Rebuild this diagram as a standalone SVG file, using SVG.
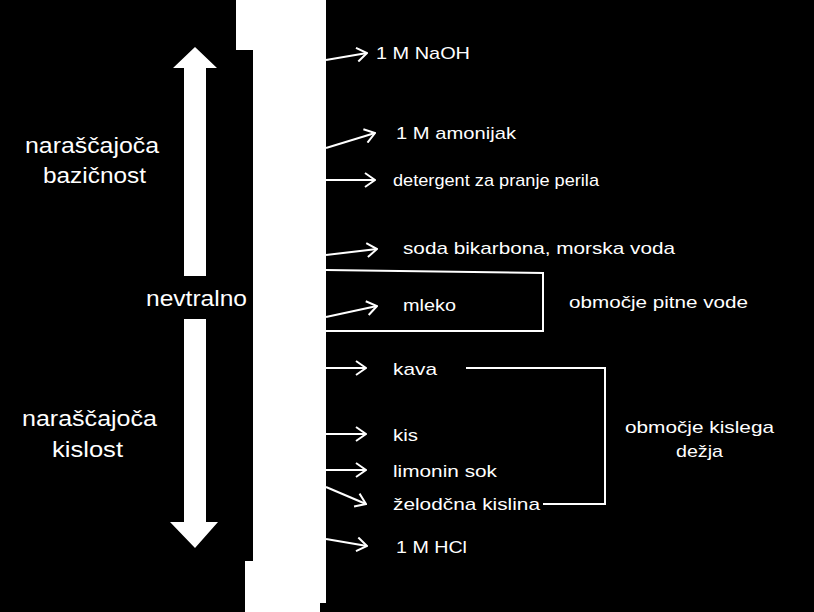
<svg xmlns="http://www.w3.org/2000/svg" width="814" height="612" viewBox="0 0 814 612">
<defs>
<style>
text{font-family:"Liberation Sans",Arial,sans-serif;fill:#fff}
.big{font-size:22px}
.lbl{font-size:17px}
.c{stroke:#fff;stroke-width:2;fill:none}
</style>
<marker id="ah" viewBox="0 0 12 16" refX="11" refY="8" markerWidth="12" markerHeight="16" markerUnits="userSpaceOnUse" orient="auto">
<path d="M1,1 L11,8 L1,15" fill="none" stroke="#fff" stroke-width="2"/>
</marker>
</defs>
<rect width="814" height="612" fill="#000"/>
<g id="scale-bar">
<path d="M236,0 H326 V603 H320 V612 H245 V561 H253 V50 H236 Z" fill="#fff"/>
</g>
<g id="double-arrow">
<polygon points="195,47 217,68 206,68 206,276 184,276 184,68 173,68" fill="#fff"/>
<polygon points="184,319 206,319 206,522 218,522 195,548 170,522 184,522" fill="#fff"/>
</g>
<g id="label-bazicnost">
<text class="big" x="25" y="153" textLength="134" lengthAdjust="spacingAndGlyphs">naraščajoča</text>
<text class="big" x="43" y="183" textLength="103" lengthAdjust="spacingAndGlyphs">bazičnost</text>
</g>
<g id="label-nevtralno">
<text class="big" x="146" y="306" textLength="101" lengthAdjust="spacingAndGlyphs">nevtralno</text>
</g>
<g id="label-kislost">
<text class="big" x="22" y="426" textLength="135" lengthAdjust="spacingAndGlyphs">naraščajoča</text>
<text class="big" x="52" y="457" textLength="71" lengthAdjust="spacingAndGlyphs">kislost</text>
</g>
<g id="connectors">
<line class="c" x1="326" y1="60" x2="367" y2="53" marker-end="url(#ah)"/>
<line class="c" x1="326" y1="148" x2="375" y2="133" marker-end="url(#ah)"/>
<line class="c" x1="326" y1="180" x2="375" y2="180" marker-end="url(#ah)"/>
<line class="c" x1="326" y1="255" x2="377" y2="249" marker-end="url(#ah)"/>
<line class="c" x1="326" y1="317" x2="377" y2="306" marker-end="url(#ah)"/>
<line class="c" x1="326" y1="368" x2="366" y2="368" marker-end="url(#ah)"/>
<line class="c" x1="326" y1="434" x2="366" y2="434" marker-end="url(#ah)"/>
<line class="c" x1="326" y1="470" x2="366" y2="470" marker-end="url(#ah)"/>
<line class="c" x1="326" y1="487" x2="366" y2="504" marker-end="url(#ah)"/>
<line class="c" x1="326" y1="539" x2="367" y2="546" marker-end="url(#ah)"/>
<path class="c" d="M326,270 L543,273 V331 H326"/>
<path class="c" d="M466,368 H605 V504 H543"/>
</g>
<g id="n-naoh"><text class="lbl" x="376" y="59" textLength="94" lengthAdjust="spacingAndGlyphs">1 M NaOH</text></g>
<g id="n-amonijak"><text class="lbl" x="396" y="139" textLength="120" lengthAdjust="spacingAndGlyphs">1 M amonijak</text></g>
<g id="n-detergent"><text class="lbl" x="393" y="186" textLength="206" lengthAdjust="spacingAndGlyphs">detergent za pranje perila</text></g>
<g id="n-soda"><text class="lbl" x="403" y="254" textLength="272" lengthAdjust="spacingAndGlyphs">soda bikarbona, morska voda</text></g>
<g id="n-mleko"><text class="lbl" x="403" y="311" textLength="53" lengthAdjust="spacingAndGlyphs">mleko</text></g>
<g id="n-pitna"><text class="lbl" x="569" y="308" textLength="179" lengthAdjust="spacingAndGlyphs">območje pitne vode</text></g>
<g id="n-kava"><text class="lbl" x="393" y="375" textLength="44" lengthAdjust="spacingAndGlyphs">kava</text></g>
<g id="n-kis"><text class="lbl" x="393" y="441" textLength="25" lengthAdjust="spacingAndGlyphs">kis</text></g>
<g id="n-limonin"><text class="lbl" x="393" y="477" textLength="104" lengthAdjust="spacingAndGlyphs">limonin sok</text></g>
<g id="n-zelodcna"><text class="lbl" x="393" y="510" textLength="147" lengthAdjust="spacingAndGlyphs">želodčna kislina</text></g>
<g id="n-hcl"><text class="lbl" x="396" y="553" textLength="71" lengthAdjust="spacingAndGlyphs">1 M HCl</text></g>
<g id="n-kisli-dez">
<text class="lbl" x="625" y="433" textLength="149" lengthAdjust="spacingAndGlyphs">območje kislega</text>
<text class="lbl" x="676" y="457" textLength="47" lengthAdjust="spacingAndGlyphs">dežja</text>
</g>
</svg>
